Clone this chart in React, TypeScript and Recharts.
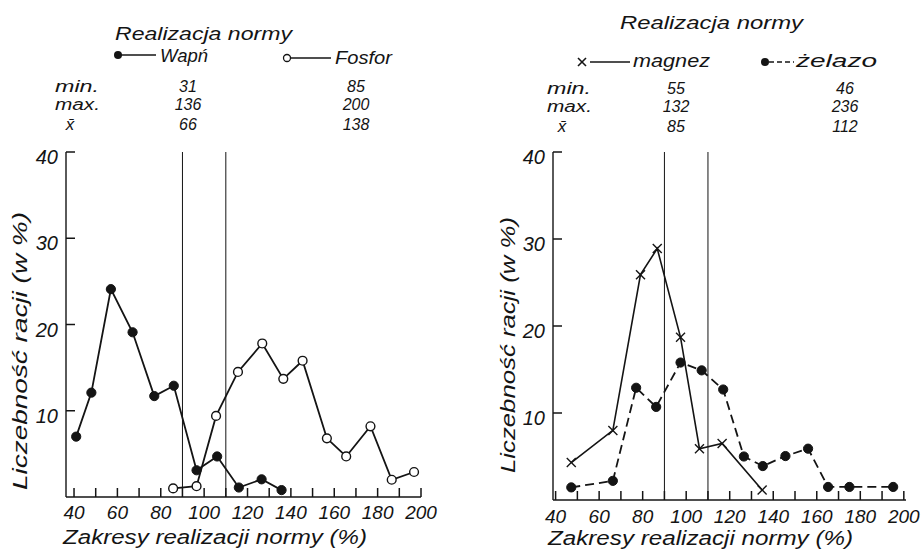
import React from 'react';
import { LineChart, Line, XAxis, YAxis, ReferenceLine } from 'recharts';

// ---- data ----
const xTicks = [40, 50, 60, 70, 80, 90, 100, 110, 120, 130, 140, 150, 160, 170, 180, 190, 200];
const yTicks = [10, 20, 30, 40];
const normLines = [90, 110];

const wapnX = [41, 48, 57, 67, 77, 86, 96.5, 106, 116, 126.5, 135.7];
const wapnY = [7.0, 12.1, 24.1, 19.1, 11.7, 12.9, 3.1, 4.7, 1.1, 2.05, 0.8];

const fosforX = [85.7, 96.5, 105.5, 115.6, 126.8, 136.5, 145.4, 156.6, 165.5, 176.7, 186.5, 196.8];
const fosforY = [1.0, 1.25, 9.4, 14.5, 17.8, 13.7, 15.8, 6.8, 4.7, 8.2, 2.0, 2.9];

const magnezX = [47.2, 66.3, 79, 86.7, 97.4, 106.1, 116.5, 134.9];
const magnezY = [4.3, 8.0, 25.9, 28.9, 18.7, 5.9, 6.5, 1.15];

const zelazoX = [47.2, 66.3, 77, 86.2, 97.4, 107.1, 117, 126.5, 135.2, 145.6, 156, 165.2, 175, 195.1];
const zelazoY = [1.45, 2.2, 12.9, 10.7, 15.8, 14.9, 12.7, 5.0, 3.9, 5.05, 5.9, 1.5, 1.5, 1.5];

const leftStats = { min: ['31', '85'], max: ['136', '200'], mean: ['66', '138'] };
const rightStats = { min: ['55', '46'], max: ['132', '236'], mean: ['85', '112'] };

const toPts = (xs: number[], ys: number[]) => xs.map((x, i) => ({ x, y: ys[i] }));
const wapnData = toPts(wapnX, wapnY);
const fosforData = toPts(fosforX, fosforY);
const magnezData = toPts(magnezX, magnezY);
const zelazoData = toPts(zelazoX, zelazoY);

const INK = '#141414';
const FONT = '"Liberation Sans", "DejaVu Sans", sans-serif';
const txt = { fontFamily: FONT, fontStyle: 'italic' as const, fill: INK };

const TICK_IN = 9;

const makeXTick = (labelDy: number) => (p: any) => {
  const { x, y, payload } = p;
  const v = payload.value;
  if (v % 20 !== 0) return <g />;
  return (
    <text x={x} y={y + TICK_IN + labelDy} textAnchor="middle" fontSize={19} {...txt}>
      {v}
    </text>
  );
};

const YTick = (p: any) => {
  const { x, y, payload } = p;
  const v = payload.value;
  return (
    <text x={x - TICK_IN - 8} y={y + 12} textAnchor="end" fontSize={20} {...txt}>
      {v}
    </text>
  );
};

const FilledDot = (p: any) => <circle key={p.index} cx={p.cx} cy={p.cy} r={4.6} fill={INK} stroke={INK} strokeWidth={1} />;
const OpenDot = (p: any) => <circle key={p.index} cx={p.cx} cy={p.cy} r={4.4} fill="#fff" stroke={INK} strokeWidth={1.4} />;
const CrossDot = (p: any) => (
  <g key={p.index}>
    <line x1={p.cx - 4.5} y1={p.cy - 4.5} x2={p.cx + 4.5} y2={p.cy + 4.5} stroke={INK} strokeWidth={1.4} />
    <line x1={p.cx - 4.5} y1={p.cy + 4.5} x2={p.cx + 4.5} y2={p.cy - 4.5} stroke={INK} strokeWidth={1.4} />
  </g>
);

const Stats = ({ lx, cx1, cx2, base, stats }: any) => (
  <g fontSize={16} {...txt}>
    <text x={lx} y={base} textLength={44} lengthAdjust="spacingAndGlyphs">min.</text>
    <text x={lx} y={base + 18} textLength={45} lengthAdjust="spacingAndGlyphs">max.</text>
    <text x={lx + 15} y={base + 38} textAnchor="middle" fontSize={17}>x̄</text>
    <text x={cx1} y={base} textAnchor="middle">{stats.min[0]}</text>
    <text x={cx1} y={base + 18} textAnchor="middle">{stats.max[0]}</text>
    <text x={cx1} y={base + 38} textAnchor="middle">{stats.mean[0]}</text>
    <text x={cx2} y={base} textAnchor="middle">{stats.min[1]}</text>
    <text x={cx2} y={base + 18} textAnchor="middle">{stats.max[1]}</text>
    <text x={cx2} y={base + 38} textAnchor="middle">{stats.mean[1]}</text>
  </g>
);

const axisCommon = {
  tickSize: -TICK_IN,
  tickMargin: 0,
  tickLine: { stroke: '#141414', strokeWidth: 1.5 },
  axisLine: { stroke: '#141414', strokeWidth: 1.4 },
  interval: 0 as const,
};

export default function App() {
  return (
    <div style={{ position: 'fixed', left: 0, top: 0, width: 923, height: 551, background: '#fff', overflow: 'hidden' }}>
      <div style={{ position: 'absolute', left: 0, top: 0 }}>
        <LineChart width={923} height={551} margin={{ top: 152, right: 502, bottom: 0, left: 0 }}>
          <XAxis dataKey="x" type="number" domain={[36.3, 200]} allowDataOverflow ticks={xTicks} height={54} {...axisCommon} tick={makeXTick(22)} />
          <YAxis type="number" domain={[0, 40]} ticks={yTicks} width={66} {...axisCommon} tick={YTick} />
          {normLines.map((v) => (
            <ReferenceLine key={v} x={v} stroke={INK} strokeWidth={1} />
          ))}
          <Line data={wapnData} dataKey="y" type="linear" stroke={INK} strokeWidth={1.8} dot={FilledDot} activeDot={false} isAnimationActive={false} />
          <Line data={fosforData} dataKey="y" type="linear" stroke={INK} strokeWidth={1.8} dot={OpenDot} activeDot={false} isAnimationActive={false} />
        </LineChart>
      </div>
      <div style={{ position: 'absolute', left: 0, top: 0 }}>
        <LineChart width={923} height={551} margin={{ top: 152, right: 17, bottom: 0, left: 0 }}>
          <XAxis dataKey="x" type="number" domain={[38.8, 201]} allowDataOverflow ticks={xTicks} height={51} {...axisCommon} tick={makeXTick(23)} />
          <YAxis type="number" domain={[0, 40]} ticks={yTicks} width={553} {...axisCommon} tick={YTick} />
          {normLines.map((v) => (
            <ReferenceLine key={v} x={v} stroke={INK} strokeWidth={1} />
          ))}
          <Line data={magnezData} dataKey="y" type="linear" stroke={INK} strokeWidth={1.6} dot={CrossDot} activeDot={false} isAnimationActive={false} />
          <Line data={zelazoData} dataKey="y" type="linear" stroke={INK} strokeWidth={1.8} strokeDasharray="9 5" dot={FilledDot} activeDot={false} isAnimationActive={false} />
        </LineChart>
      </div>
      <svg width={923} height={551} style={{ position: 'absolute', left: 0, top: 0, pointerEvents: 'none' }}>
        <text x={115} y={40} fontSize={19} textLength={177} lengthAdjust="spacingAndGlyphs" {...txt}>Realizacja normy</text>
        <circle cx={118} cy={55} r={4} fill={INK} />
        <line x1={118} x2={156} y1={55} y2={55} stroke={INK} strokeWidth={1.6} />
        <text x={160} y={62} fontSize={18} textLength={48} lengthAdjust="spacingAndGlyphs" {...txt}>Wapń</text>
        <circle cx={287} cy={58} r={3.5} fill="#fff" stroke={INK} strokeWidth={1.3} />
        <line x1={291} x2={331} y1={58} y2={58} stroke={INK} strokeWidth={1.6} />
        <text x={335} y={64} fontSize={18} textLength={57} lengthAdjust="spacingAndGlyphs" {...txt}>Fosfor</text>
        <Stats lx={55} cx1={188} cx2={356} base={92} stats={leftStats} />

        <text x={620} y={29} fontSize={19} textLength={183} lengthAdjust="spacingAndGlyphs" {...txt}>Realizacja normy</text>
        <line x1={578} y1={58} x2={586} y2={66} stroke={INK} strokeWidth={1.6} />
        <line x1={578} y1={66} x2={586} y2={58} stroke={INK} strokeWidth={1.6} />
        <line x1={590} x2={630} y1={62} y2={62} stroke={INK} strokeWidth={1.6} />
        <text x={633} y={67} fontSize={18} textLength={77} lengthAdjust="spacingAndGlyphs" {...txt}>magnez</text>
        <circle cx={765} cy={62} r={4} fill={INK} />
        <line x1={769} x2={794} y1={62} y2={62} stroke={INK} strokeWidth={1.6} strokeDasharray="5 3" />
        <text x={796} y={67} fontSize={18} textLength={81} lengthAdjust="spacingAndGlyphs" {...txt}>żelazo</text>
        <Stats lx={547} cx1={676} cx2={845} base={94} stats={rightStats} />

        <text transform="translate(27,351) rotate(-90)" x={-139} y={0} fontSize={20} textLength={278} lengthAdjust="spacingAndGlyphs" {...txt}>Liczebność racji (w %)</text>
        <text transform="translate(515,345) rotate(-90)" x={-128} y={0} fontSize={20} textLength={256} lengthAdjust="spacingAndGlyphs" {...txt}>Liczebność racji (w %)</text>
        <text x={63} y={544} fontSize={20} textLength={304} lengthAdjust="spacingAndGlyphs" {...txt}>Zakresy realizacji normy (%)</text>
        <text x={548} y={545} fontSize={20} textLength={305} lengthAdjust="spacingAndGlyphs" {...txt}>Zakresy realizacji normy (%)</text>
      </svg>
    </div>
  );
}
